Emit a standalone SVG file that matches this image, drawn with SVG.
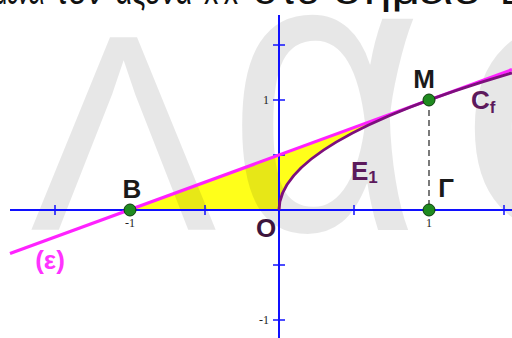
<svg xmlns="http://www.w3.org/2000/svg" width="512" height="338" viewBox="0 0 512 338">
<style>
.wm{font-family:"Liberation Sans",Arial,sans-serif;fill:#000;fill-opacity:0.095}
.top{font-family:"Liberation Sans",Arial,sans-serif;font-size:40px;fill:#111}
.axis{stroke:#1010ff;stroke-width:2;fill:none}
.tick{stroke:#1010ff;stroke-width:1.5}
.num{font-family:"Liberation Serif","Times New Roman",serif;font-size:12px;fill:#222}
.lbl{font-family:"Liberation Sans",Arial,sans-serif;font-weight:bold;font-size:26px}
.pt{fill:#1f8a1f;stroke:#0b3d0b;stroke-width:1}
</style>
<rect width="512" height="338" fill="#fff"/>
<g id="heading">
<text class="top" x="-6" y="4" textLength="50" lengthAdjust="spacingAndGlyphs">μένει</text>
<text class="top" x="55" y="4" textLength="48" lengthAdjust="spacingAndGlyphs">τον</text>
<text class="top" x="115" y="4" textLength="77" lengthAdjust="spacingAndGlyphs">άξονα</text>
<text class="top" x="204" y="4" textLength="34" lengthAdjust="spacingAndGlyphs">x'x</text>
<text class="top" x="253" y="4" textLength="67" lengthAdjust="spacingAndGlyphs">στο</text>
<text class="top" x="333" y="4" textLength="148" lengthAdjust="spacingAndGlyphs">σημείο</text>
<text class="top" x="500" y="4">Β</text>
</g>
<g id="region">
<path d="M130 210 L429 100 Q279 155 279 210 Z" fill="#ffff1a"/>
</g>
<g id="watermark">
<text class="wm" x="30" y="230" font-size="280">Λ</text>
<text class="wm" x="228" y="230" font-size="400" textLength="195" lengthAdjust="spacingAndGlyphs">α</text>
<text class="wm" x="458" y="230" font-size="400">σ</text>
</g>
<g id="axes">
<line class="axis" x1="10" y1="210" x2="512" y2="210"/>
<line class="axis" x1="279" y1="15" x2="279" y2="338"/>
<g class="tick">
<line x1="55" y1="205" x2="55" y2="215"/>
<line x1="130" y1="205" x2="130" y2="215"/>
<line x1="205" y1="205" x2="205" y2="215"/>
<line x1="354" y1="205" x2="354" y2="215"/>
<line x1="429" y1="205" x2="429" y2="215"/>
<line x1="504" y1="205" x2="504" y2="215"/>
<line x1="273" y1="45" x2="285" y2="45"/>
<line x1="273" y1="100" x2="285" y2="100"/>
<line x1="273" y1="155" x2="285" y2="155"/>
<line x1="273" y1="265" x2="285" y2="265"/>
<line x1="273" y1="320" x2="285" y2="320"/>
</g>
<text class="num" x="130" y="227" text-anchor="middle">-1</text>
<text class="num" x="429" y="227" text-anchor="middle">1</text>
<text class="num" x="269" y="104" text-anchor="end">1</text>
<text class="num" x="269" y="324" text-anchor="end">-1</text>
</g>
<g id="connectors">
<line x1="10" y1="253.6" x2="512" y2="69.6" stroke="#ff22ff" stroke-width="3.2"/>
<path d="M279 210 Q279 141.5 512 72.9" fill="none" stroke="#7d0f7d" stroke-width="3"/>
<line x1="429" y1="100" x2="429" y2="210" stroke="#333" stroke-width="1.3" stroke-dasharray="6,4"/>
</g>
<g id="B"><circle class="pt" cx="130" cy="210" r="6"/><text class="lbl" x="132" y="198" text-anchor="middle" fill="#1a1a1a">B</text></g>
<g id="M"><circle class="pt" cx="429" cy="100" r="6"/><text class="lbl" x="424" y="88" text-anchor="middle" fill="#1a1a1a">M</text></g>
<g id="Gamma"><circle class="pt" cx="429" cy="210" r="6"/><text class="lbl" x="446" y="197" text-anchor="middle" fill="#1a1a1a">Γ</text></g>
<g id="O"><text class="lbl" x="266" y="237" text-anchor="middle" fill="#3d153d">O</text></g>
<g id="E1"><text class="lbl" x="351" y="180" fill="#5c1a5c">E<tspan font-size="17" dy="3">1</tspan></text></g>
<g id="Cf"><text class="lbl" x="471" y="109" fill="#5c1a5c">C<tspan font-size="17" dy="4">f</tspan></text></g>
<g id="epsilon"><text class="lbl" x="50" y="269" text-anchor="middle" fill="#ff33ff" font-size="24">(ε)</text></g>
</svg>
